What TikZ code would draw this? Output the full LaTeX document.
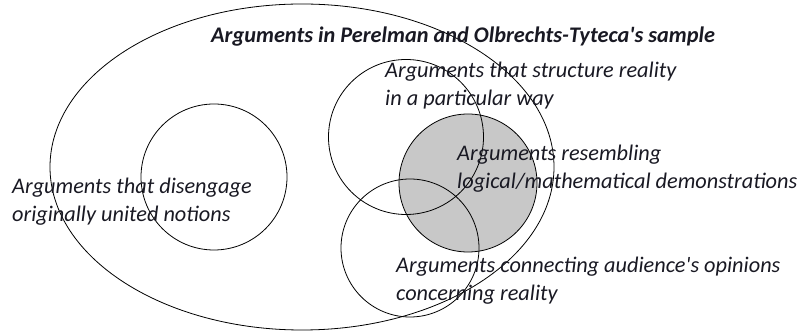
\documentclass[tikz,border=0pt]{standalone}
\usepackage{fontspec}
\setmainfont{Carlito}
\usepackage{tikz}
\usetikzlibrary{shapes.geometric}
\definecolor{SetGray}{RGB}{200,200,200}
\definecolor{InkDark}{RGB}{25,25,35}
\tikzset{
  set/.style={circle,draw=black,line width=0.8pt,inner sep=0pt},
  lbl/.style={anchor=west,inner sep=0pt,align=left,text=InkDark,
    font=\fontsize{22.3}{28}\selectfont\itshape},
}

\begin{document}
\begin{tikzpicture}[x=1pt,y=1pt]
\useasboundingbox (0,0) rectangle (798,331);
\node[ellipse,draw=black,line width=0.8pt,minimum width=504pt,minimum height=326pt,inner sep=0pt] (sample) at (302,164) {};
\node[set,fill=SetGray,minimum size=138pt] (logic) at (468,148) {};
\node[set,minimum size=146pt] (dissoc) at (214,154) {};
\node[set,minimum size=155pt] (struct) at (406,194) {};
\node[set,minimum size=138pt] (connect) at (410,83) {};
\node[lbl,font=\fontsize{22.3}{28}\selectfont\bfseries\itshape] (title) at (211,294) {Arguments in Perelman and Olbrechts-Tyteca\textquotesingle s sample};
\node[lbl] (structlbl) at (385,245) {Arguments that structure reality\\in a particular way};
\node[lbl] (logiclbl) at (457,162) {Arguments resembling\\logical/mathematical demonstrations};
\node[lbl] (dissoclbl) at (12,129) {Arguments that disengage\\originally united notions};
\node[lbl] (connectlbl) at (396,50) {Arguments connecting audience\textquotesingle s opinions\\concerning reality};
\end{tikzpicture}
\end{document}
